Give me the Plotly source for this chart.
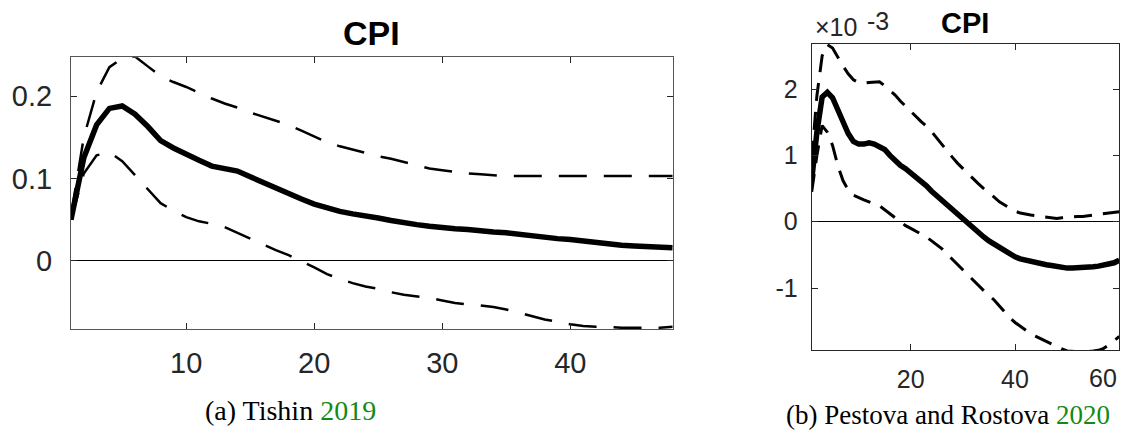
import plotly.graph_objects as go

# ---------------- Data: panel (a) Tishin 2019 ----------------
horizon_a = list(range(1, 49))
cpi_a_median = [0.050, 0.125, 0.165, 0.185, 0.188, 0.178, 0.163, 0.146, 0.137, 0.129,
                0.122, 0.115, 0.112, 0.109, 0.102, 0.095, 0.088, 0.081, 0.075, 0.069,
                0.064, 0.060, 0.057, 0.055, 0.052, 0.049, 0.046, 0.044, 0.042, 0.040,
                0.039, 0.038, 0.036, 0.035, 0.034, 0.032, 0.031, 0.029, 0.027, 0.026,
                0.024, 0.022, 0.021, 0.019, 0.018, 0.017, 0.017, 0.016]
cpi_a_upper = [0.055, 0.150, 0.205, 0.235, 0.246, 0.248, 0.236, 0.224, 0.217, 0.211,
               0.204, 0.197, 0.191, 0.186, 0.180, 0.175, 0.170, 0.165, 0.158, 0.151,
               0.144, 0.139, 0.135, 0.131, 0.127, 0.124, 0.120, 0.116, 0.112, 0.110,
               0.108, 0.106, 0.105, 0.104, 0.103, 0.103, 0.103, 0.103, 0.103, 0.103,
               0.103, 0.103, 0.103, 0.103, 0.103, 0.103, 0.103, 0.103]
cpi_a_lower = [0.050, 0.106, 0.128, 0.132, 0.121, 0.104, 0.087, 0.070, 0.061, 0.053,
               0.048, 0.045, 0.041, 0.034, 0.027, 0.020, 0.013, 0.007, 0.000, -0.008,
               -0.016, -0.022, -0.027, -0.031, -0.034, -0.038, -0.041, -0.043, -0.045, -0.048,
               -0.051, -0.053, -0.054, -0.056, -0.059, -0.063, -0.067, -0.071, -0.074, -0.077,
               -0.079, -0.080, -0.080, -0.081, -0.081, -0.081, -0.081, -0.080]

# ---------------- Data: panel (b) Pestova and Rostova 2020 (units of 1e-3) ----------------
horizon_b = list(range(1, 61))
cpi_b_median = [0.63, 1.35, 1.88, 1.95, 1.87, 1.68, 1.50, 1.33, 1.21, 1.17,
                1.17, 1.19, 1.17, 1.14, 1.09, 1.00, 0.91, 0.85, 0.80, 0.74,
                0.67, 0.60, 0.54, 0.46, 0.39, 0.32, 0.25, 0.17, 0.10, 0.03,
                -0.04, -0.10, -0.16, -0.23, -0.29, -0.34, -0.40, -0.45, -0.49, -0.53,
                -0.56, -0.58, -0.60, -0.63, -0.64, -0.65, -0.66, -0.68, -0.69, -0.70,
                -0.70, -0.70, -0.69, -0.68, -0.68, -0.67, -0.66, -0.64, -0.62, -0.58]
cpi_b_upper = [0.95, 1.90, 2.50, 2.67, 2.62, 2.48, 2.35, 2.23, 2.14, 2.10,
               2.09, 2.10, 2.11, 2.11, 2.05, 1.98, 1.91, 1.82, 1.74, 1.66,
               1.59, 1.51, 1.44, 1.36, 1.26, 1.16, 1.06, 0.97, 0.88, 0.80,
               0.72, 0.64, 0.57, 0.50, 0.44, 0.37, 0.30, 0.25, 0.20, 0.16,
               0.13, 0.11, 0.10, 0.09, 0.08, 0.07, 0.06, 0.05, 0.06, 0.07,
               0.08, 0.08, 0.08, 0.09, 0.09, 0.10, 0.11, 0.12, 0.14, 0.15]
cpi_b_lower = [0.45, 1.00, 1.45, 1.35, 1.15, 0.85, 0.62, 0.48, 0.40, 0.36,
               0.33, 0.30, 0.27, 0.24, 0.18, 0.12, 0.06, 0.00, -0.06, -0.10,
               -0.14, -0.18, -0.23, -0.29, -0.35, -0.41, -0.49, -0.57, -0.65, -0.73,
               -0.80, -0.88, -0.96, -1.04, -1.11, -1.18, -1.27, -1.36, -1.45, -1.52,
               -1.58, -1.64, -1.69, -1.73, -1.77, -1.81, -1.85, -1.89, -1.92, -1.95,
               -1.96, -1.96, -1.96, -1.96, -1.95, -1.94, -1.91, -1.86, -1.80, -1.73]

ticks_a_x = [10, 20, 30, 40]
ticks_a_y = [0, 0.1, 0.2]
ticklabels_a_y = ["0", "0.1", "0.2"]
ticks_b_x = [20, 40, 60]
ticklabels_b_x = ["20", "40", "60"]
ticks_b_y = [-1, 0, 1, 2]
ticklabels_b_y = ["-1", "0", "1", "2"]

# figure kept slightly narrower than the window so the page never overflows
W, H = 1120, 431
SANS = "Liberation Sans, Arial, Helvetica, sans-serif"
SERIF = "Liberation Serif, DejaVu Serif, serif"
TXT = "#262626"
GREEN = "#138a13"

fig = go.Figure()

for band in (cpi_a_upper, cpi_a_lower):
    fig.add_trace(go.Scatter(x=horizon_a, y=band, mode="lines",
                             line=dict(color="black", width=2.5, dash="28px,17px"),
                             xaxis="x", yaxis="y", showlegend=False, hoverinfo="skip"))
fig.add_trace(go.Scatter(x=horizon_a, y=cpi_a_median, mode="lines",
                         line=dict(color="black", width=5.5),
                         xaxis="x", yaxis="y", showlegend=False))

for band in (cpi_b_upper, cpi_b_lower):
    fig.add_trace(go.Scatter(x=horizon_b, y=band, mode="lines",
                             line=dict(color="black", width=3, dash="18px,11px"),
                             xaxis="x2", yaxis="y2", showlegend=False, hoverinfo="skip"))
fig.add_trace(go.Scatter(x=horizon_b, y=cpi_b_median, mode="lines",
                         line=dict(color="black", width=5.5),
                         xaxis="x2", yaxis="y2", showlegend=False))


def px_x(p):
    return p / W


def px_y(p):
    return 1 - p / H


axis_common = dict(showgrid=False, mirror="ticks", ticks="inside", showline=True,
                   linewidth=1, tickcolor=TXT, ticklen=6, tickwidth=1)

# last tick label of panel b sits on the page edge: draw it right-aligned at its tick
ticktext_b_axis = ticklabels_b_x[:-1] + [""]

fig.update_layout(
    width=W, height=H,
    margin=dict(l=0, r=0, t=0, b=0),
    paper_bgcolor="white", plot_bgcolor="white",
    xaxis=dict(domain=[px_x(71), px_x(672.7)], range=[1, 48], tickvals=ticks_a_x,
               linecolor="#555555", zeroline=False, anchor="y",
               tickfont=dict(family=SANS, size=29, color=TXT), ticklabelstandoff=8,
               **axis_common),
    yaxis=dict(domain=[px_y(329.3), px_y(57.3)], range=[-0.083, 0.247], tickvals=ticks_a_y,
               ticktext=ticklabels_a_y,
               linecolor="#555555", zeroline=True, zerolinecolor="black", zerolinewidth=1,
               anchor="x", tickfont=dict(family=SANS, size=29, color=TXT), ticklabelstandoff=12,
               **axis_common),
    xaxis2=dict(domain=[px_x(811.7), px_x(1119.3)], range=[1, 60], tickvals=ticks_b_x,
                ticktext=ticktext_b_axis,
                linecolor=TXT, zeroline=False, anchor="y2",
                tickfont=dict(family=SANS, size=25, color=TXT), ticklabelstandoff=7,
                **axis_common),
    yaxis2=dict(domain=[px_y(350), px_y(44)], range=[-1.935, 2.68], tickvals=ticks_b_y,
                ticktext=ticklabels_b_y,
                linecolor=TXT, zeroline=True, zerolinecolor="black", zerolinewidth=1,
                anchor="x2", tickfont=dict(family=SANS, size=25, color=TXT), ticklabelstandoff=8,
                **axis_common),
)

fig.add_annotation(text=ticklabels_b_x[-1], x=ticks_b_x[-1], xref="x2", y=px_y(378), yref="paper",
                   xanchor="right", yanchor="middle", showarrow=False,
                   font=dict(family=SANS, size=25, color=TXT))
fig.add_annotation(text="<b>CPI</b>", x=px_x(371), y=px_y(33), xref="paper", yref="paper",
                   xanchor="center", yanchor="middle", showarrow=False,
                   font=dict(family=SANS, size=34, color="black"))
fig.add_annotation(text="<b>CPI</b>", x=px_x(965), y=px_y(23), xref="paper", yref="paper",
                   xanchor="center", yanchor="middle", showarrow=False,
                   font=dict(family=SANS, size=29, color="black"))
fig.add_annotation(text="×10", x=px_x(813), y=px_y(27), xref="paper", yref="paper",
                   xanchor="left", yanchor="middle", showarrow=False,
                   font=dict(family=SANS, size=25, color=TXT))
fig.add_annotation(text="-3", x=px_x(865), y=px_y(21), xref="paper", yref="paper",
                   xanchor="left", yanchor="middle", showarrow=False,
                   font=dict(family=SANS, size=25, color=TXT))
fig.add_annotation(text="(a) Tishin <span style='color:" + GREEN + "'>2019</span>",
                   x=px_x(290), y=px_y(410), xref="paper", yref="paper",
                   xanchor="center", yanchor="middle", showarrow=False,
                   font=dict(family=SERIF, size=28, color="black"))
fig.add_annotation(text="(b) Pestova and Rostova <span style='color:" + GREEN + "'>2020</span>",
                   x=px_x(948), y=px_y(415), xref="paper", yref="paper",
                   xanchor="center", yanchor="middle", showarrow=False,
                   font=dict(family=SERIF, size=27, color="black"))

fig.write_html("out.html", config={"displayModeBar": False})
